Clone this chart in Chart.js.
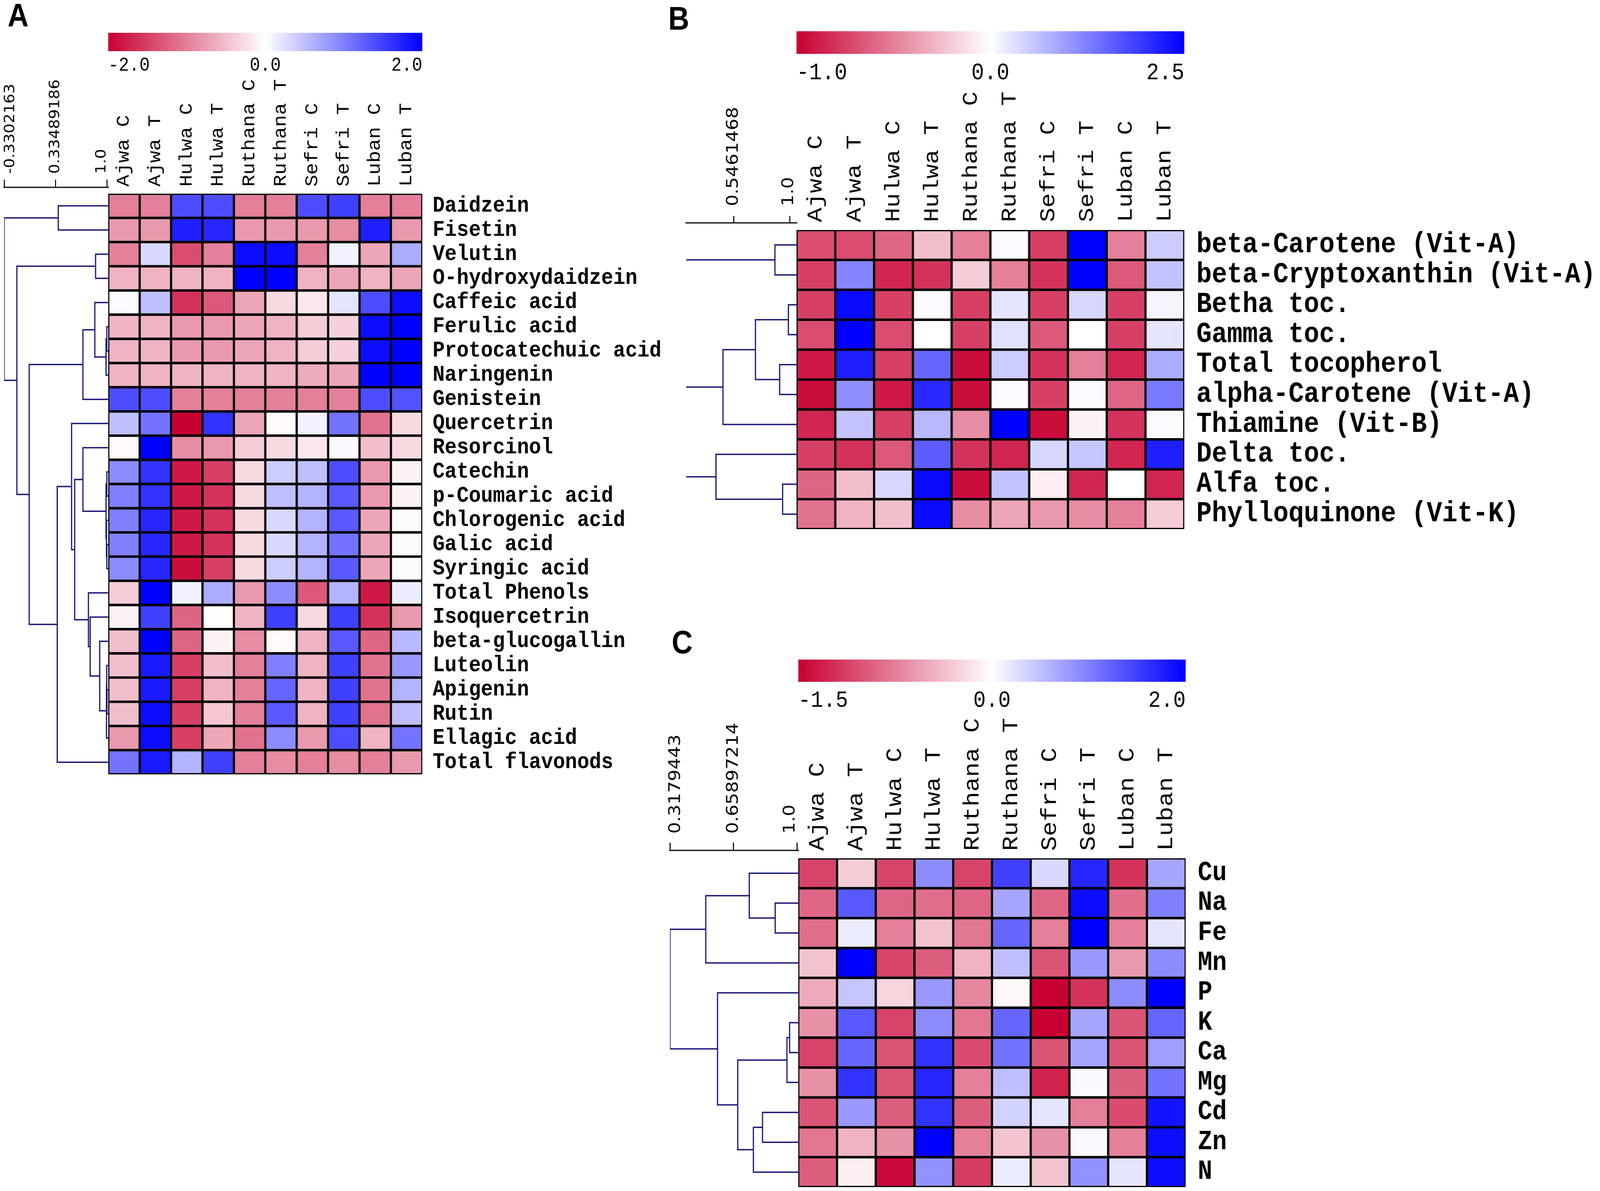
<!DOCTYPE html>
<html><head><meta charset="utf-8">
<script src="https://cdn.jsdelivr.net/npm/chart.js@4.4.1/dist/chart.umd.min.js"></script>
<style>
html,body{margin:0;padding:0;background:#fff;overflow:hidden;}
#stage{position:absolute;left:0;top:0;width:4626px;height:3050px;transform-origin:0 0;background:#fff;}
canvas{position:absolute;}
.lbl{position:absolute;font-family:"Liberation Sans",Arial,sans-serif;font-weight:bold;font-size:84px;line-height:84px;color:#000;}
</style></head><body>
<div id="stage">
<div class="lbl" style="left:22px;top:-3px">A</div>
<div class="lbl" style="left:1932px;top:5px">B</div>
<div class="lbl" style="left:1942px;top:1602px">C</div>
</div>
<script>
// ---------------- DATA ----------------
const columns = ['Ajwa C','Ajwa T','Hulwa C','Hulwa T','Ruthana C','Ruthana T','Sefri C','Sefri T','Luban C','Luban T'];

const rowsA = ['Daidzein','Fisetin','Velutin','O-hydroxydaidzein','Caffeic acid','Ferulic acid','Protocatechuic acid','Naringenin','Genistein','Quercetrin','Resorcinol','Catechin','p-Coumaric acid','Chlorogenic acid','Galic acid','Syringic acid','Total Phenols','Isoquercetrin','beta-glucogallin','Luteolin','Apigenin','Rutin','Ellagic acid','Total flavonods'];
const valuesA = [
  [-1.0,-1.0,1.4,1.4,-1.0,-1.0,1.4,1.5,-1.0,-1.0],
  [-0.8,-0.8,1.75,1.7,-0.8,-0.8,-0.8,-0.9,1.75,-0.8],
  [-1.0,0.3,-1.4,-1.0,1.9,1.9,-1.0,0.1,-0.7,0.65],
  [-0.6,-0.6,-0.6,-0.6,2.0,2.0,-0.6,-0.7,-0.6,-0.7],
  [0.03,0.5,-1.6,-1.3,-0.7,-0.3,-0.2,0.2,1.4,1.9],
  [-0.6,-0.6,-0.8,-0.8,-0.7,-0.6,-0.4,-0.35,1.9,2.0],
  [-0.6,-0.6,-0.8,-0.8,-0.7,-0.6,-0.4,-0.35,1.9,2.0],
  [-0.6,-0.6,-0.6,-0.6,-0.6,-0.6,-0.65,-0.7,2.0,2.0],
  [1.4,1.4,-1.0,-1.0,-1.0,-1.0,-1.0,-1.0,1.4,1.35],
  [0.5,1.1,-2.0,1.6,-0.7,-0.05,0.1,1.1,-1.1,-0.3],
  [-0.05,2.0,-0.9,-0.8,-0.4,-0.3,-0.2,0.05,-0.5,-0.3],
  [0.9,1.6,-1.8,-1.5,-0.3,0.4,0.5,1.4,-0.8,-0.1],
  [1.0,1.6,-1.8,-1.6,-0.3,0.5,0.6,1.3,-0.8,-0.1],
  [1.0,1.7,-1.8,-1.6,-0.3,0.3,0.6,1.3,-0.7,-0.03],
  [1.0,1.7,-1.8,-1.6,-0.3,0.3,0.6,1.1,-0.7,-0.03],
  [0.9,1.7,-1.9,-1.5,-0.3,0.4,0.6,1.3,-0.7,0.02],
  [-0.4,2.0,0.1,0.65,-0.8,0.9,-1.3,0.6,-1.8,0.15],
  [-0.1,1.5,-1.2,-0.02,-0.6,1.5,-0.3,1.5,-1.6,-0.8],
  [-0.5,2.0,-1.2,-0.1,-0.9,-0.05,-0.6,1.3,-1.2,0.55],
  [-0.5,1.8,-1.5,-0.5,-1.0,1.0,-0.6,1.5,-1.1,0.8],
  [-0.5,1.8,-1.5,-0.6,-1.0,1.2,-0.6,1.5,-1.1,0.6],
  [-0.5,1.9,-1.5,-0.45,-1.0,1.3,-0.6,1.5,-1.1,0.5],
  [-0.8,1.9,-1.5,-0.7,-1.1,0.9,-0.8,1.4,-0.6,1.1],
  [1.1,1.8,0.6,1.5,-1.0,-0.9,-1.0,-0.9,-1.0,-0.8]
];
const rangeA = [-2.0, 2.0];
const colorbarTicksA = ['-2.0','0.0','2.0'];
const treeTickValsA = [-0.3302163, 0.33489186, 1.0];
const treeTickTextA = ['-0.3302163','0.33489186','1.0'];
// merges: [childA, childB, similarity]; indices >= n refer to earlier merges
const linkA = [
  [0,1,0.368],[2,3,0.85],[5,6,0.995],[26,7,0.985],[4,27,0.84],[28,8,0.686],
  [11,12,0.995],[14,15,0.995],[13,31,0.99],[30,32,0.985],[10,33,0.686],
  [20,21,0.997],[19,35,0.993],[36,22,0.99],[18,37,0.903],[17,38,0.78],[16,39,0.757],
  [34,40,0.58],[9,41,0.54],[42,23,0.355],[29,43,-0.007],[25,44,-0.166],[24,45,-0.3302163]
];

const rowsB = ['beta-Carotene (Vit-A)','beta-Cryptoxanthin (Vit-A)','Betha toc.','Gamma toc.','Total tocopherol','alpha-Carotene (Vit-A)','Thiamine (Vit-B)','Delta toc.','Alfa toc.','Phylloquinone (Vit-K)'];
const valuesB = [
  [-0.7,-0.7,-0.6,-0.25,-0.5,0.05,-0.75,2.5,-0.5,0.5],
  [-0.75,1.2,-0.85,-0.8,-0.2,-0.5,-0.8,2.5,-0.65,0.6],
  [-0.75,2.4,-0.75,0.05,-0.75,0.25,-0.75,0.4,-0.75,0.1],
  [-0.7,2.5,-0.7,0.0,-0.75,0.3,-0.65,0.0,-0.75,0.25],
  [-0.9,2.2,-0.75,1.5,-0.95,0.5,-0.8,-0.5,-0.85,0.8],
  [-0.95,1.1,-0.9,2.1,-0.95,0.05,-0.75,0.05,-0.6,1.3],
  [-0.85,0.6,-0.75,0.7,-0.45,2.5,-0.95,-0.05,-0.8,0.05],
  [-0.75,-0.8,-0.65,1.6,-0.8,-0.85,0.4,0.55,-0.85,2.2],
  [-0.6,-0.25,0.4,2.4,-0.95,0.6,-0.07,-0.85,0.0,-0.85],
  [-0.55,-0.3,-0.25,2.4,-0.45,-0.35,-0.4,-0.45,-0.5,-0.2]
];
const rangeB = [-1.0, 2.5];
const colorbarTicksB = ['-1.0','0.0','2.5'];
const treeTickValsB = [0.5461468, 1.0];
const treeTickTextB = ['0.5461468','1.0'];
const linkB = [
  [0,1,0.881],[2,3,0.99],[4,5,0.919],[11,12,0.723],[13,6,0.46],
  [8,9,0.943],[7,15,0.403],[10,14,0.05],[17,16,-0.1]
];

const rowsC = ['Cu','Na','Fe','Mn','P','K','Ca','Mg','Cd','Zn','N'];
const valuesC = [
  [-1.1,-0.3,-1.1,0.9,-1.1,1.5,0.3,1.7,-1.2,0.7],
  [-0.9,1.3,-0.9,-0.85,-0.9,0.7,-0.9,1.9,-0.85,1.0],
  [-0.85,0.15,-0.75,-0.35,-0.8,1.2,-0.75,2.0,-0.75,0.2],
  [-0.35,2.0,-1.1,-0.95,-0.45,0.5,-1.0,0.8,-0.6,0.9],
  [-0.5,0.45,-0.25,0.8,-0.7,-0.05,-1.5,-1.2,0.9,2.0],
  [-0.65,1.3,-1.1,0.9,-0.8,1.2,-1.5,0.7,-1.0,1.2],
  [-1.1,1.2,-1.0,1.6,-1.05,1.1,-1.0,0.7,-1.0,0.75],
  [-0.65,1.6,-1.0,1.7,-0.75,0.5,-1.3,0.05,-0.95,1.1],
  [-1.0,0.8,-0.95,1.6,-0.95,0.35,0.2,-0.75,-1.05,1.85],
  [-0.8,-0.45,-0.65,2.0,-0.75,-0.35,-0.65,0.05,-0.75,1.9],
  [-0.95,-0.1,-1.45,0.85,-1.15,0.15,-0.35,0.85,0.2,1.9]
];
const rangeC = [-1.5, 2.0];
const colorbarTicksC = ['-1.5','0.0','2.0'];
const treeTickValsC = [0.3179443, 0.65897214, 1.0];
const treeTickTextC = ['0.3179443','0.65897214','1.0'];
const linkC = [
  [1,2,0.882],[0,11,0.743],[12,3,0.510],[5,6,0.959],[14,7,0.945],
  [8,9,0.814],[16,10,0.765],[15,17,0.681],[4,18,0.573],[13,19,0.3179443]
];

// ---------------- STYLE / HELPERS ----------------
const MONO = '"Liberation Mono","Courier New",monospace';
const SANS = '"DejaVu Sans",Verdana,sans-serif';
const RED = [200,0,50], WHITE = [255,255,255], BLUE = [0,0,255];
const TREE_COLOR = 'rgb(24,24,122)';
const stage = document.getElementById('stage');
stage.style.transform = `scale(${window.innerWidth / 4626}, ${window.innerHeight / 3050})`;

function tFor(v, vmin, vmax) {
  let t = v < 0 ? 0.5 * (1 - v / vmin) : 0.5 + 0.5 * v / vmax;
  return Math.max(0, Math.min(1, t));
}
function mix(a, b, f) { return a.map((x, i) => Math.round(x + (b[i] - x) * f)); }
function colorFor(v, vmin, vmax) {
  const t = tFor(v, vmin, vmax);
  const c = t < 0.5 ? mix(RED, WHITE, t / 0.5) : mix(WHITE, BLUE, (t - 0.5) / 0.5);
  return `rgb(${c[0]},${c[1]},${c[2]})`;
}
function addCanvas(left, top, w, h) {
  const c = document.createElement('canvas');
  c.style.left = left + 'px'; c.style.top = top + 'px';
  c.style.width = w + 'px'; c.style.height = h + 'px';
  c.width = w; c.height = h;
  stage.appendChild(c);
  return c;
}
const noPlug = { legend: { display: false }, tooltip: { enabled: false } };

function heatmap(g, rows, vals, range) {
  const cv = addCanvas(g.left, g.top, g.w, g.h);
  const datasets = columns.map((c, ci) => ({
    data: rows.map(() => [ci, ci + 1]),
    backgroundColor: rows.map((r, ri) => colorFor(vals[ri][ci], range[0], range[1])),
    borderColor: '#000', borderWidth: 3.5, borderSkipped: false,
    barPercentage: 1, categoryPercentage: 1, grouped: false
  }));
  new Chart(cv, {
    type: 'bar',
    data: { labels: rows, datasets },
    options: {
      indexAxis: 'y', responsive: false, animation: false, devicePixelRatio: 1,
      layout: { padding: { left: 0, right: 0, top: 0, bottom: g.padBottom } },
      plugins: noPlug,
      scales: {
        x: {
          type: 'linear', position: 'top', min: 0, max: columns.length,
          afterBuildTicks: ax => { ax.ticks = columns.map((c, i) => ({ value: i + 0.5 })); },
          afterFit: ax => { ax.height = g.xAxisH; ax.paddingLeft = 0; ax.paddingRight = 0; },
          ticks: { autoSkip: false, minRotation: 90, maxRotation: 90, padding: g.colPad, color: '#000',
                   labelOffset: 1.2 * g.colFont,
                   font: { family: MONO, size: g.colFont }, callback: (v, i) => columns[i] },
          grid: { display: false, drawTicks: false }, border: { display: false }
        },
        y: {
          type: 'category', position: 'right',
          afterFit: ax => { ax.width = g.yAxisW; ax.paddingTop = 0; ax.paddingBottom = 0; },
          ticks: { autoSkip: false, padding: g.rowPad, color: '#000',
                   font: { family: MONO, size: g.rowFont, weight: 'bold' } },
          grid: { display: false, drawTicks: false }, border: { display: false }
        }
      }
    }
  });
}

function dendrogram(g, link, n, tickVals, tickText) {
  const cv = addCanvas(g.left, g.top, g.w, g.h);
  const nodes = [];
  for (let i = 0; i < n; i++) nodes.push({ x: g.xmax, y: i + 0.5 });
  const datasets = link.map(([a, b, h]) => {
    const A = nodes[a], B = nodes[b];
    nodes.push({ x: h, y: (A.y + B.y) / 2 });
    return {
      data: [{ x: A.x, y: A.y }, { x: h, y: A.y }, { x: h, y: B.y }, { x: B.x, y: B.y }],
      showLine: true, borderColor: TREE_COLOR, borderWidth: g.lw, pointRadius: 0, tension: 0, fill: false
    };
  });
  // all top axes get zero height; the space above the plot comes from layout padding,
  // so every axis sits exactly on the plot's top edge
  const scales = {
    x: {
      type: 'linear', position: 'top', min: g.xmin, max: g.xmax,
      afterBuildTicks: ax => { ax.ticks = tickVals.map(v => ({ value: v })); },
      afterFit: ax => { ax.height = 0; ax.paddingLeft = 0; ax.paddingRight = 0; },
      ticks: { display: false },
      grid: { display: true, drawOnChartArea: false, drawTicks: true, tickLength: g.tickLen,
              color: '#000', lineWidth: 3 },
      border: { display: true, color: '#222', width: 3.5 }
    },
    y: { type: 'linear', display: false, reverse: true, min: g.ymin, max: n }
  };
  // one label axis per tick so each label can sit where the reference puts it
  // (mirrored ticks are not clipped to the zero-height axis box; negative padding lifts them above the axis line)
  tickVals.forEach((tv, k) => {
    scales['lab' + k] = {
      type: 'linear', axis: 'x', position: 'top', min: g.xmin, max: g.xmax,
      afterBuildTicks: ax => { ax.ticks = [{ value: tv }]; },
      afterFit: ax => { ax.height = 0; ax.paddingLeft = 0; ax.paddingRight = 0; },
      ticks: { autoSkip: false, minRotation: 90, maxRotation: 90, mirror: true,
               padding: -(g.tickLen + g.tickPad), color: '#000',
               labelOffset: g.shift[k],
               font: { family: SANS, size: g.font }, callback: () => tickText[k] },
      grid: { display: false, drawTicks: false }, border: { display: false }
    };
  });
  new Chart(cv, {
    type: 'scatter',
    data: { datasets },
    options: {
      responsive: false, animation: false, devicePixelRatio: 1,
      layout: { padding: { left: g.padLeft, right: g.padRight, top: g.xAxisH, bottom: g.padBottom } },
      plugins: noPlug,
      scales
    }
  });
}

function colorbar(g, range, tickText) {
  const cv = addCanvas(g.left, g.top, g.w, g.h);
  const tickPos = [range[0], 0, range[1]].map(v => tFor(v, range[0], range[1]));
  new Chart(cv, {
    type: 'bar',
    data: { labels: [''], datasets: [{
      data: [[0, 1]], borderWidth: 0, barPercentage: 1, categoryPercentage: 1,
      backgroundColor: ctx => {
        const ca = ctx.chart.chartArea;
        if (!ca) return '#fff';
        const gr = ctx.chart.ctx.createLinearGradient(ca.left, 0, ca.right, 0);
        gr.addColorStop(0, `rgb(${RED})`);
        gr.addColorStop(0.5, `rgb(${WHITE})`);
        gr.addColorStop(1, `rgb(${BLUE})`);
        return gr;
      }
    }] },
    options: {
      indexAxis: 'y', responsive: false, animation: false, devicePixelRatio: 1,
      layout: { padding: { left: g.padL, right: g.padR, top: g.padT, bottom: 0 } },
      plugins: noPlug,
      scales: {
        x: {
          type: 'linear', position: 'bottom', min: 0, max: 1,
          afterBuildTicks: ax => { ax.ticks = tickPos.map(v => ({ value: v })); },
          afterFit: ax => { ax.height = g.xAxisH; ax.paddingLeft = 0; ax.paddingRight = 0; },
          ticks: { autoSkip: false, maxRotation: 0, align: 'inner', padding: g.tickPad, color: '#000',
                   font: { family: MONO, size: g.font }, callback: (v, i) => tickText[i] },
          grid: { display: false, drawTicks: false }, border: { display: false }
        },
        y: { display: false }
      }
    }
  });
}

// ---------------- PANEL A ----------------
colorbar({ left: 290, top: 60, w: 960, h: 160, padL: 23, padR: 29, padT: 24, xAxisH: 89, tickPad: 7, font: 50 },
         rangeA, colorbarTicksA);
dendrogram({ left: 0, top: 150, w: 353, h: 1845, padLeft: 12, padRight: 40, padBottom: 12, xAxisH: 330,
             xmin: -0.3302163, xmax: 1.0134, ymin: -0.258, lw: 3.5, font: 40, tickPad: 15, tickLen: 20,
             shift: [19, 0, -15] },
           linkA, rowsA.length, treeTickValsA, treeTickTextA);
heatmap({ left: 313, top: 150, w: 1660, h: 1845, yAxisW: 752, xAxisH: 346, padBottom: 12,
          colPad: 18, colFont: 51, rowPad: 30, rowFont: 58 }, rowsA, valuesA, rangeA);

// ---------------- PANEL B ----------------
colorbar({ left: 2280, top: 56, w: 1170, h: 175, padL: 23, padR: 26, padT: 24, xAxisH: 93, tickPad: 12, font: 61 },
         rangeB, colorbarTicksB);
dendrogram({ left: 1950, top: 200, w: 393, h: 1170, padLeft: 34, padRight: 40, padBottom: 15, xAxisH: 371,
             xmin: 0.162, xmax: 1.056, ymin: -0.235, lw: 3.5, font: 47, tickPad: 25, tickLen: 18,
             shift: [0, -2] },
           linkB, rowsB.length, treeTickValsB, treeTickTextB);
heatmap({ left: 2303, top: 200, w: 2323, h: 1170, yAxisW: 1202, xAxisH: 389, padBottom: 15,
          colPad: 20, colFont: 62, rowPad: 35, rowFont: 74 }, rowsB, valuesB, rangeB);

// ---------------- PANEL C ----------------
colorbar({ left: 2285, top: 1665, w: 1170, h: 175, padL: 23, padR: 27, padT: 24, xAxisH: 94, tickPad: 12, font: 60 },
         rangeC, colorbarTicksC);
dendrogram({ left: 1900, top: 1800, w: 448, h: 1250, padLeft: 37, padRight: 40, padBottom: 10, xAxisH: 378,
             xmin: 0.3179443, xmax: 1.0056, ymin: -0.261, lw: 3.5, font: 47, tickPad: 23, tickLen: 20,
             shift: [17, 0, -20] },
           linkC, rowsC.length, treeTickValsC, treeTickTextC);
heatmap({ left: 2308, top: 1800, w: 2318, h: 1250, yAxisW: 1198, xAxisH: 398, padBottom: 10,
          colPad: 19, colFont: 63, rowPad: 35, rowFont: 70 }, rowsC, valuesC, rangeC);
</script>
</body></html>
